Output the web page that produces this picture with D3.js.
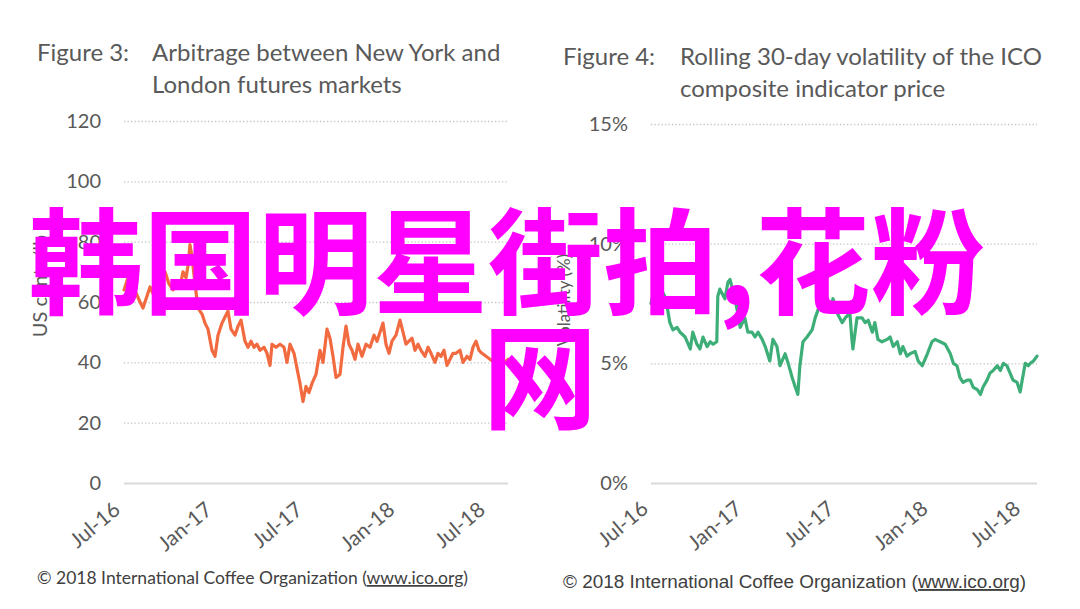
<!DOCTYPE html>
<html><head><meta charset="utf-8">
<script src="https://cdn.jsdelivr.net/npm/d3@7/dist/d3.min.js"></script>
<style>body{margin:0;background:#fff}svg{display:block}</style>
</head><body>
<svg id="c" width="1080" height="609"></svg>
<script>
// ---------- Figure 3: arbitrage (US cents/lb) ----------
const arbDates = ["2016-07-01","2016-07-09","2016-07-17","2016-07-25","2016-08-02","2016-08-08","2016-08-16","2016-08-22","2016-08-30","2016-09-07","2016-09-15","2016-09-21","2016-09-29","2016-10-07","2016-10-15","2016-10-21","2016-10-27","2016-11-02","2016-11-06","2016-11-10","2016-11-14","2016-11-20","2016-11-26","2016-12-04","2016-12-10","2016-12-16","2016-12-24","2016-12-30",
"2017-01-05","2017-01-13","2017-01-19","2017-01-25","2017-01-31","2017-02-08","2017-02-14","2017-02-20","2017-02-28","2017-03-06","2017-03-12","2017-03-18","2017-03-24","2017-03-30","2017-04-07","2017-04-13","2017-04-19","2017-04-23","2017-05-01","2017-05-09","2017-05-17","2017-05-23","2017-05-29","2017-06-06","2017-06-12","2017-06-18","2017-06-24","2017-06-30","2017-07-06","2017-07-12","2017-07-20","2017-07-24","2017-07-28","2017-08-03","2017-08-11","2017-08-17","2017-08-23","2017-08-29","2017-09-06","2017-09-12","2017-09-18","2017-09-24","2017-09-30","2017-10-06","2017-10-12","2017-10-20","2017-10-28","2017-11-05","2017-11-13","2017-11-19","2017-11-25","2017-12-01","2017-12-07","2017-12-13","2017-12-19","2017-12-27",
"2018-01-04","2018-01-10","2018-01-16","2018-01-22","2018-01-28","2018-02-03","2018-02-09","2018-02-15","2018-02-23","2018-03-01","2018-03-07","2018-03-15","2018-03-21","2018-03-27","2018-04-02","2018-04-08","2018-04-14","2018-04-20","2018-04-26","2018-05-04","2018-05-10","2018-05-18","2018-05-24","2018-05-30","2018-06-05","2018-06-11","2018-06-17","2018-06-25","2018-07-03","2018-07-13","2018-07-23","2018-08-02","2018-08-08"];
const arbValues = [64,68,66,63,60,58,62,65,62,66,69,70,66,64,67,65,70,68,72,79,75,66,58,56,53,51,44,42,
49,53,55,57,51,49,52,54,47,45,47,45,46,44,45,43,39,46,45,46,45,40,46,43,38,33,27,32,30,33,36,40,44,40,51,48,42,35,36,45,52,46,44,41,46,42,46,45,49,47,50,53,46,43,47,49,
54,50,46,47,48,44,46,44,42,45,43,40,43,42,44,39,41,43,43,44,40,42,41,45,47,44,43,42,41,40,41,40,41];
const arbTicks = [0,20,40,60,80,100,120];
const arbTickLabels = ["0","20","40","60","80","100","120"];

// ---------- Figure 4: rolling 30-day volatility (%) ----------
const volDates = ["2016-07-01","2016-07-09","2016-07-15","2016-07-23","2016-07-28","2016-08-03","2016-08-07","2016-08-13","2016-08-21","2016-08-27","2016-09-06","2016-09-16","2016-09-21","2016-09-29","2016-10-05","2016-10-11","2016-10-19","2016-10-25","2016-10-31","2016-11-07","2016-11-09","2016-11-13","2016-11-23","2016-11-29","2016-12-03","2016-12-13","2016-12-23",
"2017-01-01","2017-01-07","2017-01-15","2017-01-21","2017-01-27","2017-02-04","2017-02-10","2017-02-19","2017-02-25","2017-03-05","2017-03-11","2017-03-21","2017-03-27","2017-04-04","2017-04-10","2017-04-15","2017-04-19","2017-04-25","2017-05-03","2017-05-13","2017-05-19","2017-05-29","2017-06-07","2017-06-17","2017-06-23","2017-07-01","2017-07-11","2017-07-17","2017-07-26","2017-07-30","2017-08-01","2017-08-09","2017-08-19","2017-08-25","2017-08-31","2017-09-08","2017-09-13","2017-09-19","2017-09-27","2017-10-07","2017-10-13","2017-10-19","2017-10-27","2017-11-02","2017-11-07","2017-11-15","2017-11-21","2017-12-01","2017-12-07","2017-12-15","2017-12-25",
"2018-01-03","2018-01-09","2018-01-19","2018-01-29","2018-02-08","2018-02-14","2018-02-21","2018-02-27","2018-03-05","2018-03-13","2018-03-19","2018-03-25","2018-04-02","2018-04-08","2018-04-13","2018-04-21","2018-04-27","2018-05-03","2018-05-11","2018-05-17","2018-05-23","2018-05-30","2018-06-05","2018-06-11","2018-06-19","2018-06-25","2018-06-29","2018-07-05","2018-07-11","2018-07-15","2018-07-21","2018-07-28"];
const volValues = [7.5,8.3,8.6,8.0,7.8,7.2,6.7,6.4,6.5,6.3,6.1,5.6,6.3,5.8,5.6,6.1,5.7,5.9,5.8,5.9,7.8,8.1,7.7,8.4,8.5,7.7,6.5,
6.9,6.3,6.3,6.1,6.3,6.0,5.7,5.1,6.0,5.7,4.9,5.4,5.0,4.4,4.0,3.7,4.9,5.9,6.1,6.4,6.9,7.5,7.8,7.2,7.7,7.1,6.7,6.9,7.1,6.0,5.6,6.9,6.9,6.7,6.8,6.3,6.7,6.0,5.9,6.0,6.1,5.7,5.9,5.4,5.7,5.3,5.4,5.5,5.1,4.9,5.4,
5.9,6.0,5.9,5.8,5.4,5.0,4.9,4.4,4.2,4.3,4.3,4.0,3.9,3.7,4.0,4.3,4.6,4.7,4.9,4.7,5.0,4.9,4.6,4.3,4.2,3.8,4.3,5.0,4.9,5.0,5.1,5.3];
const volTicks = [0,5,10,15];
const volTickLabels = ["0%","5%","10%","15%"];

// ---------- shared ----------
const xTickDates = ["2016-07-01","2017-01-01","2017-07-01","2018-01-01","2018-07-01"];
const xTickLabels = ["Jul-16","Jan-17","Jul-17","Jan-18","Jul-18"];
const overlayLine1 = "韩国明星街拍,花粉";
const overlayLine2 = "网";

const parse = d3.timeParse("%Y-%m-%d");
const svg = d3.select("#c");

function panel(o){
  const g = svg.append("g");
  const x = d3.scaleTime().domain([parse(o.dates[0]), parse(o.dates[o.dates.length-1])]).range([o.x0, o.x1]);
  const y = d3.scaleLinear().domain([0, o.ymax]).range([483, o.ytop]);
  // y axis with gridlines
  const ya = g.append("g").attr("transform", `translate(${o.x0},0)`)
    .call(d3.axisLeft(y).tickValues(o.yticks).tickSize(-(o.x1 - o.x0)).tickPadding(23)
      .tickFormat((d,i) => o.ylabels[i]));
  ya.select(".domain").remove();
  ya.selectAll(".tick line")
    .attr("stroke-dasharray", d => d === 0 ? null : "1.3,2.2")
    .attr("stroke", d => d === 0 ? "#d9d9d9" : "#c4c4c4")
    .attr("stroke-width", d => d === 0 ? 2 : 1.3);
  ya.selectAll(".tick text").attr("fill", "#595959").style("font-family", o.tickFont).style("font-size", o.tickSize + "px");
  // x axis
  const xa = g.append("g").attr("transform", `translate(0,${o.xLabY})`)
    .call(d3.axisBottom(x).tickValues(xTickDates.map(parse)).tickSize(0).tickPadding(0)
      .tickFormat((d,i) => xTickLabels[i]));
  xa.select(".domain").remove();
  xa.selectAll(".tick text").attr("fill", "#595959").attr("dy", 0).attr("y", 0)
    .attr("text-anchor", "end").attr("transform", `translate(${o.xLabDx},0) rotate(-40)`)
    .style("font-family", o.tickFont).style("font-size", o.xLabSize + "px");
  // line
  const data = o.dates.map((d,i) => ({date: parse(d), v: o.values[i]}));
  g.append("path").datum(data)
    .attr("fill", "none").attr("stroke", o.color).attr("stroke-width", 3.2)
    .attr("stroke-linejoin", "round").attr("stroke-linecap", "round")
    .attr("d", d3.line().x(d => x(d.date)).y(d => y(d.v)));
  // y axis title
  g.append("text").attr("transform", `translate(${o.yTitleX},${o.yTitleY}) rotate(-90)`)
    .attr("text-anchor", "middle").attr("fill", "#595959")
    .style("font-family", o.tickFont).style("font-size", o.yTitleSize + "px").text(o.yTitle);
  // title
  const t = g.append("g").attr("fill", "#595959").style("font-family", "Lato").style("font-size", "24px");
  t.append("text").attr("x", o.tx).attr("y", o.ty).text(o.fig);
  t.append("text").attr("x", o.tx + o.tIndent).attr("y", o.ty).text(o.title1);
  t.append("text").attr("x", o.tx + o.tIndent).attr("y", o.ty + 32).text(o.title2);
  // footer
  const f = g.append("text").attr("x", o.tx).attr("y", o.fy).attr("fill", "#404040")
    .style("font-family", o.footFont).style("font-size", o.footSize + "px");
  f.append("tspan").text("© 2018 International Coffee Organization (");
  f.append("tspan").style("text-decoration", "underline").text("www.ico.org");
  f.append("tspan").text(")");
}

panel({dates: arbDates, values: arbValues, x0: 124, x1: 508, ymax: 120, ytop: 121,
  yticks: arbTicks, ylabels: arbTickLabels, color: "#f26a3f", tickFont: "Lato", tickSize: 20, xLabSize: 21,
  xLabY: 512, xLabDx: -3, yTitle: "US cents/lb", yTitleX: 47, yTitleY: 286, yTitleSize: 20,
  fig: "Figure 3:", title1: "Arbitrage between New York and", title2: "London futures markets",
  tx: 37, ty: 61, tIndent: 115, fy: 584, footFont: "Lato", footSize: 17.5});

panel({dates: volDates, values: volValues, x0: 651, x1: 1037, ymax: 15, ytop: 124,
  yticks: volTicks, ylabels: volTickLabels, color: "#3eae78", tickFont: "Lato", tickSize: 20, xLabSize: 21,
  xLabY: 511, xLabDx: -2, yTitle: "Volatility (%)", yTitleX: 570, yTitleY: 300, yTitleSize: 17,
  fig: "Figure 4:", title1: "Rolling 30-day volatility of the ICO", title2: "composite indicator price",
  tx: 563, ty: 65, tIndent: 117, fy: 588, footFont: "Liberation Sans", footSize: 18.9});

// overlay caption
const ov = svg.append("g").attr("fill", "#ff00ff")
  .style("font-family", "'Noto Sans CJK SC'").style("font-weight", 700).style("font-size", "115px");
ov.append("text").attr("x", 28).attr("y", 305).text(overlayLine1);
ov.append("text").attr("x", 540).attr("y", 420).attr("text-anchor", "middle").text(overlayLine2);
</script>
</body></html>
